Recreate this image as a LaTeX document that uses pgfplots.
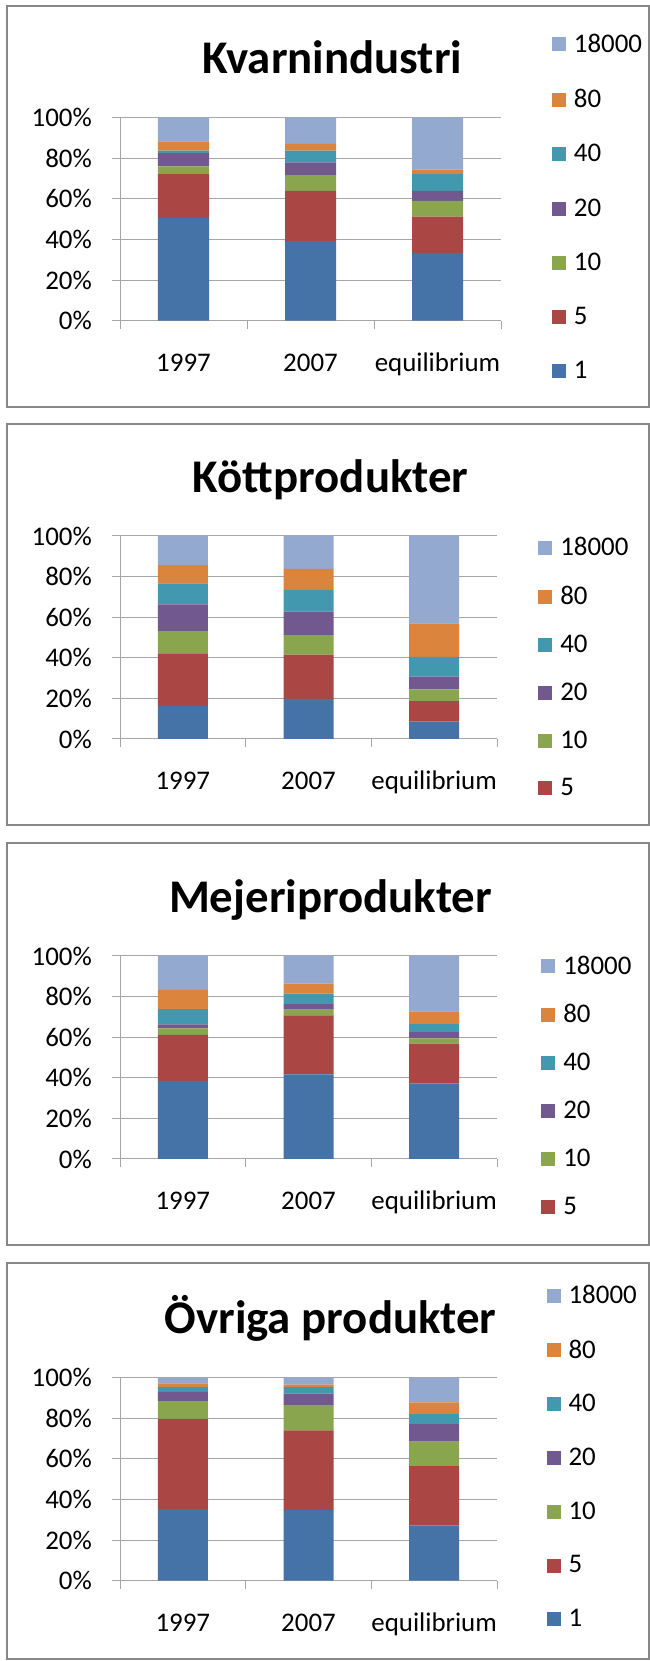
\documentclass[border=0pt]{standalone}
\usepackage{fontspec}
\setmainfont{Carlito}
\usepackage{pgfplots}
\usepackage{pgfplotstable}
\pgfplotsset{compat=1.18}

\definecolor{cOne}{HTML}{4572A7}
\definecolor{cFive}{HTML}{AA4643}
\definecolor{cTen}{HTML}{89A54E}
\definecolor{cTwenty}{HTML}{71588F}
\definecolor{cForty}{HTML}{4198AF}
\definecolor{cEighty}{HTML}{DB843D}
\definecolor{cTop}{HTML}{93A9CF}
\definecolor{axgray}{HTML}{A6A6A6}
\definecolor{boxgray}{HTML}{878787}

% shares in percent, columns = firm size classes
\pgfplotstableread{
x c1 c5 c10 c20 c40 c80 c18000
0 50.6 21.6 3.8 6.5 1.3 4.5 11.7
1 39.2 24.8 7.7 6.3 5.8 3.3 12.9
2 33.4 17.8 7.8 5.0 8.2 2.2 25.6
}\kvarn
\pgfplotstableread{
x c1 c5 c10 c20 c40 c80 c18000
0 16.2 26.0 10.9 13.2 10.4 8.9 14.4
1 19.8 21.8 9.6 11.5 10.7 10.4 16.2
2 8.6 10.0 5.8 6.3 9.7 16.5 43.1
}\kott
\pgfplotstableread{
x c1 c5 c10 c20 c40 c80 c18000
0 38.5 22.7 3.1 2.0 7.5 9.5 16.7
1 41.7 29.0 2.9 2.7 5.2 4.9 13.6
2 37.2 19.6 2.6 3.1 3.9 6.3 27.3
}\mejeri
\pgfplotstableread{
x c1 c5 c10 c20 c40 c80 c18000
0 35.3 44.4 8.8 4.5 2.3 1.9 2.8
1 34.8 39.2 12.5 5.7 3.1 1.3 3.4
2 27.2 29.2 12.1 8.6 5.0 5.7 12.2
}\ovriga

\pgfplotsset{
  panel/.style={
    scale only axis, width=377bp, height=203bp,
    anchor=south west,
    ybar stacked, bar width=50bp,
    ymin=0, ymax=100, ytick={0,20,...,100},
    yticklabel={\pgfmathprintnumber{\tick}\%},
    xmin=-0.5, xmax=2.5,
    xtick={-0.5,0.5,1.5,2.5}, xticklabels={},
    extra x ticks={0,1,2}, extra x tick labels={1997,2007,equilibrium},
    extra x tick style={major tick length=0pt},
    axis x line*=bottom, axis y line*=left,
    axis line style={draw=axgray, line width=1bp},
    ymajorgrids, grid style={draw=axgray, line width=1bp},
    tick align=outside, major tick length=8bp,
    tick style={draw=axgray, line width=1bp},
    ticklabel style={font=\fontsize{27}{30}\selectfont},
    /pgf/number format/assume math mode=true,
    xticklabel style={anchor=base, inner sep=0pt, yshift=-51bp},
    yticklabel style={anchor=east, inner sep=0pt, xshift=-20bp},
    title style={font=\fontsize{47}{50}\selectfont\bfseries, anchor=base,
      at={(0.5,1)}, yshift=38bp, xshift=22bp},
    legend style={draw=none, fill=none, inner sep=0pt, anchor=north west,
      font=\fontsize{27}{30}\selectfont, nodes={inner sep=0pt},
      column sep=8bp},
    legend cell align=left,
    reverse legend,
    legend image code/.code={\fill[#1] (0bp,-7.5bp) rectangle (14bp,6.5bp);},
    every axis plot/.append style={draw=none},
  }
}

\begin{document}
\begin{tikzpicture}
\useasboundingbox (0bp,0bp) rectangle (650bp,1661bp);
\draw[boxgray, line width=2bp] (6.6bp,1254.3bp) rectangle (648.5bp,1655bp);
\draw[boxgray, line width=2bp] (6.6bp,836bp) rectangle (648.5bp,1237bp);
\draw[boxgray, line width=2bp] (6.6bp,416bp) rectangle (648.5bp,818.3bp);
\draw[boxgray, line width=2bp] (6.6bp,2bp) rectangle (648.5bp,398.3bp);

% Kvarnindustri
\begin{axis}[panel, at={(120bp,1340.3bp)}, width=381bp, bar width=51bp,
  title={Kvarnindustri},
  legend style={at={(1.133,1.413)}, row sep=35.3bp}]
\addplot[fill=cOne] table[x=x,y=c1]{\kvarn};
\addplot[fill=cFive] table[x=x,y=c5]{\kvarn};
\addplot[fill=cTen] table[x=x,y=c10]{\kvarn};
\addplot[fill=cTwenty] table[x=x,y=c20]{\kvarn};
\addplot[fill=cForty] table[x=x,y=c40]{\kvarn};
\addplot[fill=cEighty] table[x=x,y=c80]{\kvarn};
\addplot[fill=cTop] table[x=x,y=c18000]{\kvarn};
\legend{1,5,10,20,40,80,18000}
\end{axis}

% Köttprodukter
\begin{axis}[panel, at={(120bp,922bp)},
  title={Köttprodukter},
  legend style={at={(1.109,0.994)}, row sep=28.9bp}]
\addplot[fill=cOne, forget plot] table[x=x,y=c1]{\kott};
\addplot[fill=cFive] table[x=x,y=c5]{\kott};
\addplot[fill=cTen] table[x=x,y=c10]{\kott};
\addplot[fill=cTwenty] table[x=x,y=c20]{\kott};
\addplot[fill=cForty] table[x=x,y=c40]{\kott};
\addplot[fill=cEighty] table[x=x,y=c80]{\kott};
\addplot[fill=cTop] table[x=x,y=c18000]{\kott};
\legend{5,10,20,40,80,18000}
\end{axis}

% Mejeriprodukter
\begin{axis}[panel, at={(120bp,502bp)},
  title={Mejeriprodukter},
  legend style={at={(1.117,1.002)}, row sep=28.9bp}]
\addplot[fill=cOne, forget plot] table[x=x,y=c1]{\mejeri};
\addplot[fill=cFive] table[x=x,y=c5]{\mejeri};
\addplot[fill=cTen] table[x=x,y=c10]{\mejeri};
\addplot[fill=cTwenty] table[x=x,y=c20]{\mejeri};
\addplot[fill=cForty] table[x=x,y=c40]{\mejeri};
\addplot[fill=cEighty] table[x=x,y=c80]{\mejeri};
\addplot[fill=cTop] table[x=x,y=c18000]{\mejeri};
\legend{5,10,20,40,80,18000}
\end{axis}

% Övriga produkter
\begin{axis}[panel, at={(120bp,80.3bp)},
  title={Övriga produkter},
  legend style={at={(1.131,1.457)}, row sep=34.8bp}]
\addplot[fill=cOne] table[x=x,y=c1]{\ovriga};
\addplot[fill=cFive] table[x=x,y=c5]{\ovriga};
\addplot[fill=cTen] table[x=x,y=c10]{\ovriga};
\addplot[fill=cTwenty] table[x=x,y=c20]{\ovriga};
\addplot[fill=cForty] table[x=x,y=c40]{\ovriga};
\addplot[fill=cEighty] table[x=x,y=c80]{\ovriga};
\addplot[fill=cTop] table[x=x,y=c18000]{\ovriga};
\legend{1,5,10,20,40,80,18000}
\end{axis}
\end{tikzpicture}
\end{document}
